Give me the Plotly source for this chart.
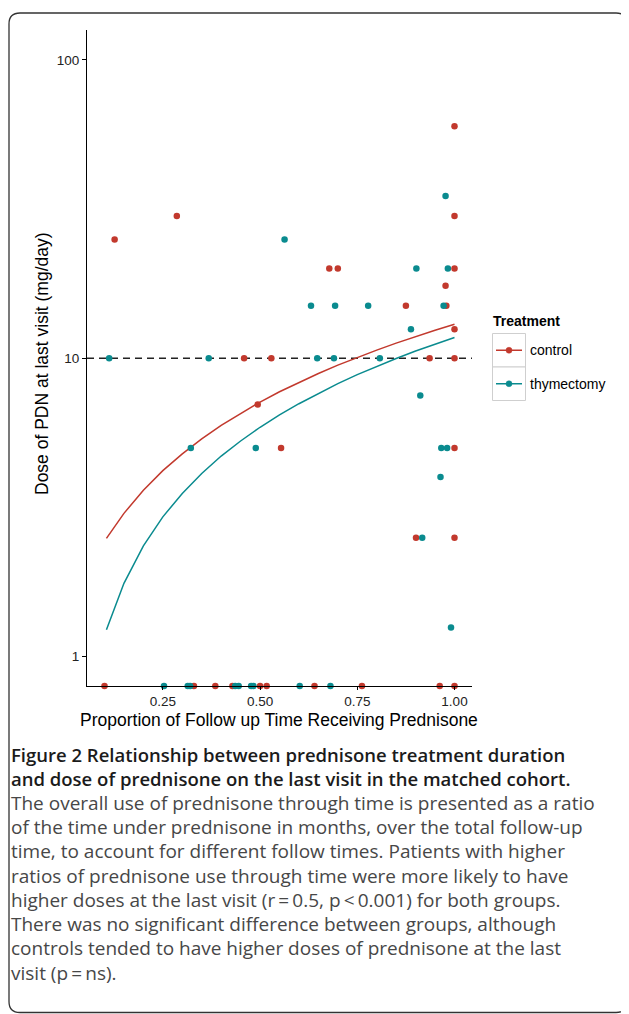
import plotly.graph_objects as go

# ---------------- data ----------------
control_x = [0.126, 0.286, 0.678, 0.700, 1.0, 1.0, 1.0, 0.977, 0.875, 0.979, 1.0,
             0.459, 0.529, 0.936, 1.0, 0.494, 0.554, 1.0, 0.901, 1.0,
             0.100, 0.330, 0.385, 0.429, 0.500, 0.517, 0.640, 0.762, 0.962, 1.0]
control_dose = [25, 30, 20, 20, 20, 30, 60, 17.5, 15, 15, 12.5,
                10, 10, 10, 10, 7, 5, 5, 2.5, 2.5,
                0, 0, 0, 0, 0, 0, 0, 0, 0, 0]

thym_x = [0.563, 0.902, 0.983, 0.977, 0.631, 0.693, 0.778, 0.972, 0.888,
          0.112, 0.368, 0.647, 0.690, 0.808, 0.912, 0.322, 0.489, 0.966, 0.981,
          0.964, 0.917, 0.991,
          0.253, 0.314, 0.320, 0.436, 0.445, 0.477, 0.483, 0.602, 0.681]
thym_dose = [25, 20, 20, 35, 15, 15, 15, 15, 12.5,
             10, 10, 10, 10, 10, 7.5, 5, 5, 5, 5,
             4, 2.5, 1.25,
             0, 0, 0, 0, 0, 0, 0, 0, 0]

# fitted curves at these x positions
fit_x = [0.105, 0.15, 0.2, 0.25, 0.3, 0.35, 0.4, 0.45, 0.5, 0.55, 0.6, 0.65,
         0.7, 0.75, 0.8, 0.85, 0.9, 0.95, 1.0]
fit_control = [2.49, 3.02, 3.61, 4.20, 4.78, 5.37, 5.96, 6.54, 7.13, 7.72, 8.30,
               8.89, 9.48, 10.07, 10.65, 11.24, 11.83, 12.41, 13.0]
fit_thym = [1.23, 1.76, 2.35, 2.94, 3.52, 4.11, 4.70, 5.28, 5.87, 6.46, 7.04,
            7.63, 8.22, 8.81, 9.39, 9.98, 10.57, 11.15, 11.74]

threshold = 10
x_ticks = [0.25, 0.50, 0.75, 1.00]
x_tick_labels = ["0.25", "0.50", "0.75", "1.00"]
y_ticks = [1, 10, 100]
y_tick_labels = ["1", "10", "100"]
legend_title = "Treatment"
group_names = ["control", "thymectomy"]

caption_bold = ["Figure 2 Relationship between prednisone treatment duration",
                "and dose of prednisone on the last visit in the matched cohort."]
caption_body = ["The overall use of prednisone through time is presented as a ratio",
                "of the time under prednisone in months, over the total follow-up",
                "time, to account for different follow times. Patients with higher",
                "ratios of prednisone use through time were more likely to have",
                "higher doses at the last visit (r\u2009=\u20090.5, p\u2009&lt;\u20090.001) for both groups.",
                "There was no significant difference between groups, although",
                "controls tended to have higher doses of prednisone at the last",
                "visit (p\u2009=\u2009ns)."]

# ---------------- styling / layout ----------------
OFF = 8                      # the page body has an 8px margin
W, H = 629 - OFF, 1014 - OFF
L, R, T, B = 87 - OFF, 472 - OFF, 30 - OFF, 686 - OFF   # plot area in figure pixels
X_RANGE = [0.055, 1.045]
Y_LOG_RANGE = [-0.0988, 2.1005]
Y_FLOOR = 10 ** Y_LOG_RANGE[0]   # zero doses drawn on the axis (like -Inf in ggplot)

RED = "#C2392D"
TEAL = "#0A8B8F"
CHART_FONT = "Liberation Sans, Arial, sans-serif"
CAP_FONT = "Open Sans, Lato, sans-serif"


def px2x(px):
    """screen pixel -> paper x"""
    return (px - OFF - L) / (R - L)


def px2y(py):
    """screen pixel -> paper y"""
    return (B - (py - OFF)) / (B - T)


def floor0(vals):
    return [v if v > 0 else Y_FLOOR for v in vals]


fig = go.Figure()

# reference line
fig.add_trace(go.Scatter(x=X_RANGE, y=[threshold, threshold], mode="lines",
                         line=dict(color="#222222", width=1.6, dash="7px,5px"),
                         hoverinfo="skip", showlegend=False))

fig.add_trace(go.Scatter(x=fit_x, y=fit_control, mode="lines",
                         line=dict(color=RED, width=1.5), showlegend=False))
fig.add_trace(go.Scatter(x=fit_x, y=fit_thym, mode="lines",
                         line=dict(color=TEAL, width=1.5), showlegend=False))

fig.add_trace(go.Scatter(x=control_x, y=floor0(control_dose), mode="markers",
                         marker=dict(color=RED, size=6.5, line=dict(width=0)),
                         cliponaxis=False, name=group_names[0], showlegend=False))
fig.add_trace(go.Scatter(x=thym_x, y=floor0(thym_dose), mode="markers",
                         marker=dict(color=TEAL, size=6.5, line=dict(width=0)),
                         cliponaxis=False, name=group_names[1], showlegend=False))

shapes = []
annotations = []

# outer rounded frame
r = 11
fx0, fy0, fx1, fy1 = 9, 13, 627, 1012.5
path = (f"M {px2x(fx0)},{px2y(fy1 - r)} L {px2x(fx0)},{px2y(fy0 + r)} "
        f"Q {px2x(fx0)},{px2y(fy0)} {px2x(fx0 + r)},{px2y(fy0)} "
        f"L {px2x(fx1 - r)},{px2y(fy0)} "
        f"Q {px2x(fx1)},{px2y(fy0)} {px2x(fx1)},{px2y(fy0 + r)} "
        f"L {px2x(fx1)},{px2y(fy1 - r)} "
        f"Q {px2x(fx1)},{px2y(fy1)} {px2x(fx1 - r)},{px2y(fy1)} "
        f"L {px2x(fx0 + r)},{px2y(fy1)} "
        f"Q {px2x(fx0)},{px2y(fy1)} {px2x(fx0)},{px2y(fy1 - r)} Z")
shapes.append(dict(type="path", xref="paper", yref="paper", path=path,
                   line=dict(color="#333333", width=1.3)))

# manual legend (ggplot style keys)
annotations.append(dict(xref="paper", yref="paper", x=px2x(491), y=px2y(320.5),
                        xanchor="left", yanchor="middle", showarrow=False,
                        text=f"<b>{legend_title}</b>",
                        font=dict(family=CHART_FONT, size=14, color="#000000")))
for i, (name, col) in enumerate(zip(group_names, [RED, TEAL])):
    top = 333.5 + i * 33.5
    bot = top + 33.5
    cy = (top + bot) / 2
    shapes.append(dict(type="rect", xref="paper", yref="paper",
                       x0=px2x(492.5), x1=px2x(525.5), y0=px2y(bot), y1=px2y(top),
                       line=dict(color="#CFCFCF", width=1), fillcolor="white"))
    shapes.append(dict(type="line", xref="paper", yref="paper",
                       x0=px2x(496), x1=px2x(522), y0=px2y(cy), y1=px2y(cy),
                       line=dict(color=col, width=1.5)))
    shapes.append(dict(type="circle", xref="paper", yref="paper",
                       x0=px2x(506), x1=px2x(512), y0=px2y(cy + 3), y1=px2y(cy - 3),
                       line=dict(color=col, width=0.5), fillcolor=col))
    annotations.append(dict(xref="paper", yref="paper", x=px2x(528), y=px2y(cy),
                            xanchor="left", yanchor="middle", showarrow=False,
                            text=name,
                            font=dict(family=CHART_FONT, size=14, color="#000000")))

# axis titles
annotations.append(dict(xref="paper", yref="paper", x=px2x(279), y=px2y(707.5),
                        xanchor="center", yanchor="top", showarrow=False,
                        text="Proportion of Follow up Time Receiving Prednisone",
                        font=dict(family=CHART_FONT, size=17.5, color="#000000")))
annotations.append(dict(xref="paper", yref="paper", x=px2x(42), y=px2y(364),
                        xanchor="center", yanchor="middle", showarrow=False,
                        textangle=-90,
                        text="Dose of PDN at last visit (mg/day)",
                        font=dict(family=CHART_FONT, size=17.5, color="#000000")))

# caption
line_y0, line_step = 754, 24.3
for i, txt in enumerate(caption_bold + caption_body):
    bold = i < len(caption_bold)
    annotations.append(dict(
        xref="paper", yref="paper", x=px2x(9), y=px2y(line_y0 + i * line_step),
        xanchor="left", yanchor="middle", showarrow=False,
        text=txt,
        font=dict(family=CAP_FONT, size=18.5 if bold else 19,
                  weight=600 if bold else 400,
                  color="#1b1b1b" if bold else "#474747")))

fig.update_layout(
    width=W, height=H,
    margin=dict(l=L, r=W - R, t=T, b=H - B, pad=0),
    paper_bgcolor="white", plot_bgcolor="white",
    showlegend=False,
    shapes=shapes, annotations=annotations,
    xaxis=dict(range=X_RANGE, tickvals=x_ticks, ticktext=x_tick_labels,
               showgrid=False, zeroline=False, showline=True,
               linecolor="#000000", linewidth=1.2,
               ticks="outside", ticklen=3, tickcolor="#000000", tickwidth=1,
               tickfont=dict(family=CHART_FONT, size=13.5, color="#222222")),
    yaxis=dict(type="log", range=Y_LOG_RANGE, tickvals=y_ticks, ticktext=y_tick_labels,
               showgrid=False, zeroline=False, showline=True,
               linecolor="#000000", linewidth=1.2,
               ticks="outside", ticklen=4, tickcolor="#000000", tickwidth=1,
               tickfont=dict(family=CHART_FONT, size=13.5, color="#222222")),
)

fig.write_html("out.html")
